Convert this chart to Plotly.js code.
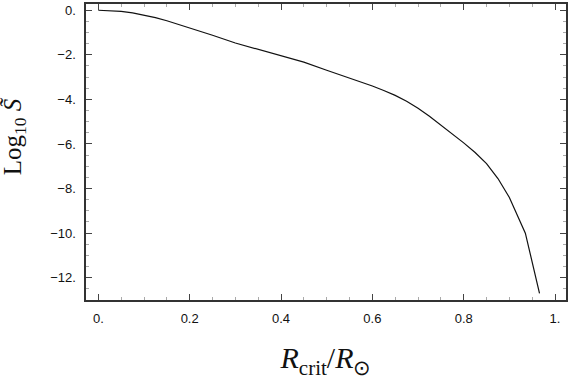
<!DOCTYPE html>
<html>
<head>
<meta charset="utf-8">
<script src="https://cdn.plot.ly/plotly-3.0.1.min.js"></script>
<style>html,body{margin:0;padding:0;background:#fff;}#chart{width:572px;height:384px;}</style>
</head>
<body>
<div id="chart"></div>
<script>
// Data
const rCrit = [0, 0.025, 0.05, 0.075, 0.1, 0.125, 0.15, 0.2, 0.25, 0.3, 0.35, 0.4, 0.45, 0.5, 0.55, 0.575, 0.6, 0.625, 0.65, 0.675, 0.7, 0.725, 0.75, 0.775, 0.8, 0.825, 0.85, 0.875, 0.9, 0.935, 0.966];
const logS  = [0, -0.01, -0.05, -0.12, -0.21, -0.33, -0.47, -0.78, -1.12, -1.47, -1.75, -2.03, -2.33, -2.69, -3.03, -3.22, -3.40, -3.60, -3.82, -4.08, -4.40, -4.76, -5.15, -5.54, -5.95, -6.38, -6.88, -7.55, -8.40, -10.0, -12.7];

const xTickVals = [0, 0.2, 0.4, 0.6, 0.8, 1];
const xTickText = ['0.', '0.2', '0.4', '0.6', '0.8', '1.'];
const yTickVals = [0, -2, -4, -6, -8, -10, -12];
const yTickText = ['0.', '\u22122.', '\u22124.', '\u22126.', '\u22128.', '\u221210.', '\u221212.'];
const xTitle = '<i>R</i><sub>crit</sub>/<i>R</i><sub>\u2299</sub>';
const yTitle = 'Log<sub>10</sub> <i>S\u0303</i>';

const trace = {
  x: rCrit, y: logS, type: 'scatter', mode: 'lines',
  line: {color: '#111', width: 1.2}, hoverinfo: 'skip'
};

const axisCommon = {
  showgrid: false, zeroline: false,
  showline: true, linecolor: '#333', linewidth: 1.6,
  mirror: 'allticks', ticks: 'inside', ticklen: 6, tickwidth: 1, tickcolor: '#444',
  tickfont: {family: 'Liberation Sans, Arial, sans-serif', size: 13, color: '#111'}
};

const layout = {
  width: 572, height: 384,
  margin: {l: 86, r: 6, t: 4, b: 84},
  paper_bgcolor: '#fff', plot_bgcolor: '#fff',
  showlegend: false,
  xaxis: Object.assign({}, axisCommon, {
    range: [-0.027, 1.024],
    tickmode: 'array', tickvals: xTickVals, ticktext: xTickText,
    minor: {ticks: 'inside', ticklen: 3, tickcolor: '#aaa', dtick: 0.05, tick0: 0},
    ticklabelstandoff: 6,
    title: {text: xTitle,
            font: {family: 'Liberation Serif, Times New Roman, serif', size: 30, color: '#111'},
            standoff: 22}
  }),
  yaxis: Object.assign({}, axisCommon, {
    range: [-13, 0.28],
    tickmode: 'array', tickvals: yTickVals, ticktext: yTickText,
    minor: {ticks: 'inside', ticklen: 3, tickcolor: '#aaa', dtick: 0.5, tick0: 0},
    ticklabelstandoff: 6
  }),
  annotations: [{
    text: yTitle, xref: 'paper', yref: 'paper',
    x: -0.15, y: 0.55, xanchor: 'center', yanchor: 'middle',
    textangle: -90, showarrow: false,
    font: {family: 'Liberation Serif, Times New Roman, serif', size: 25, color: '#111'}
  }]
};

Plotly.newPlot('chart', [trace], layout, {displayModeBar: false, staticPlot: true});
</script>
</body>
</html>
